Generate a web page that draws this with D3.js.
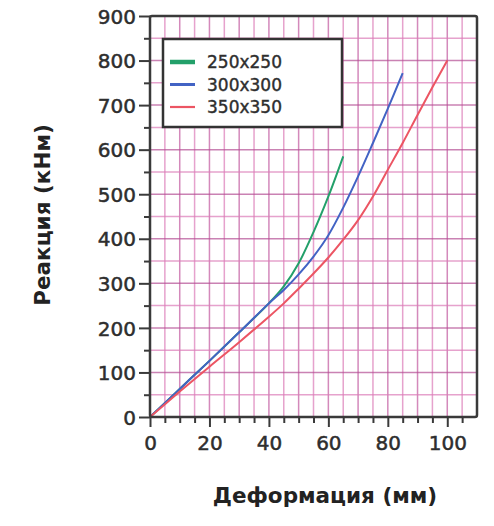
<!DOCTYPE html>
<html>
<head>
<meta charset="utf-8">
<script src="https://cdn.jsdelivr.net/npm/d3@7"></script>
<style>
	body { margin: 0; background: #fff; }
	svg { display: block; }
</style>
</head>
<body>
<script>
const w = 494;
const h = 526;
const margin = { left: 150, right: 17, top: 16, bottom: 109 };

const seriesNames = ["250x250", "300x300", "350x350"];
const seriesColors = ["#23a06a", "#4263c4", "#ec5563"];

// deformation (mm) / reaction
const defl250 = [0, 10, 20, 30, 40, 45, 50, 55, 60, 65];
const react250 = [0, 63, 126, 190, 255, 293, 345, 415, 495, 585];
const defl300 = [0, 10, 20, 30, 40, 45, 50, 55, 60, 65, 70, 75, 80, 85];
const react300 = [0, 63, 126, 190, 255, 285, 320, 360, 408, 470, 540, 615, 692, 772];
const defl350 = [0, 10, 20, 30, 40, 45, 50, 55, 60, 65, 70, 75, 80, 85, 90, 95, 100];
const react350 = [0, 57, 113, 168, 225, 255, 288, 322, 358, 398, 442, 495, 555, 615, 678, 740, 800];

const xTicks = [0, 20, 40, 60, 80, 100];
const yTicks = [0, 100, 200, 300, 400, 500, 600, 700, 800, 900];

const series = [
	{ name: seriesNames[0], color: seriesColors[0], x: defl250, y: react250 },
	{ name: seriesNames[1], color: seriesColors[1], x: defl300, y: react300 },
	{ name: seriesNames[2], color: seriesColors[2], x: defl350, y: react350 },
];

const svg = d3.select("body").append("svg").attr("width", w).attr("height", h);

const xScale = d3.scaleLinear().domain([0, 110]).range([margin.left, w - margin.right]);
const yScale = d3.scaleLinear().domain([0, 900]).range([h - margin.bottom, margin.top]);

// * GRID
const grid = svg.append("g");
grid.selectAll(".vline")
	.data(d3.range(5, 110, 5))
	.enter()
	.append("line")
	.attr("x1", (d) => xScale(d))
	.attr("x2", (d) => xScale(d))
	.attr("y1", yScale(900))
	.attr("y2", yScale(0))
	.attr("stroke", (d) => (d % 10 === 0 ? "#c2589f" : "#dc7cb8"))
	.attr("stroke-width", 1.5)
	.attr("opacity", 0.7);
grid.selectAll(".hline")
	.data(d3.range(50, 900, 50))
	.enter()
	.append("line")
	.attr("x1", xScale(0))
	.attr("x2", xScale(110))
	.attr("y1", (d) => yScale(d))
	.attr("y2", (d) => yScale(d))
	.attr("stroke", (d) => (d % 100 === 0 ? "#b44e94" : "#dc7cb8"))
	.attr("stroke-width", 1.5)
	.attr("opacity", 0.7);

// * CURVES
const line = d3.line()
	.x((d) => xScale(d[0]))
	.y((d) => yScale(d[1]))
	.curve(d3.curveCatmullRom);
series.forEach((s) => {
	svg.append("path")
		.datum(s.x.map((x, i) => [x, s.y[i]]))
		.attr("fill", "none")
		.attr("stroke", s.color)
		.attr("stroke-width", 2)
		.attr("d", line);
});

// * AXES
const xAxis = d3.axisBottom(xScale)
	.tickValues(d3.range(0, 110, 5))
	.tickSize(6)
	.tickFormat((d) => (xTicks.includes(d) ? d : ""));
const gx = svg.append("g")
	.attr("transform", "translate(0," + yScale(0) + ")")
	.call(xAxis);
gx.selectAll(".tick line")
	.attr("y2", (d) => (xTicks.includes(d) ? 10 : 6));

const yAxis = d3.axisLeft(yScale)
	.tickValues(d3.range(0, 950, 50))
	.tickSize(6)
	.tickFormat((d) => (yTicks.includes(d) ? d : ""));
const gy = svg.append("g")
	.attr("transform", "translate(" + xScale(0) + ",0)")
	.call(yAxis);
gy.selectAll(".tick line")
	.attr("x2", (d) => (yTicks.includes(d) ? -11 : -6));

[gx, gy].forEach((g) => {
	g.select(".domain").remove();
	g.selectAll(".tick line").attr("stroke", "#3a3a3a").attr("stroke-width", 2);
	g.selectAll(".tick text")
		.attr("fill", "#2e2e2e")
		.attr("stroke", "#2e2e2e")
		.attr("stroke-width", 0.5)
		.style("font-family", "'DejaVu Sans', sans-serif")
		.style("font-size", "20px");
});
gx.selectAll(".tick text").attr("dy", "1.05em").attr("y", 12);
gy.selectAll(".tick text").attr("x", -14).attr("dy", "0.36em");

// frame
svg.append("rect")
	.attr("x", xScale(0))
	.attr("y", yScale(900))
	.attr("width", xScale(110) - xScale(0))
	.attr("height", yScale(0) - yScale(900))
	.attr("rx", 2)
	.attr("fill", "none")
	.attr("stroke", "#3a3a3a")
	.attr("stroke-width", 2.5);

// * LEGEND
const legend = svg.append("g");
legend.append("rect")
	.attr("x", 163)
	.attr("y", 39)
	.attr("width", 179)
	.attr("height", 88)
	.attr("fill", "#fff")
	.attr("stroke", "#333")
	.attr("stroke-width", 2.5);
const legendWidths = [4.5, 3, 2.2];
series.forEach((s, i) => {
	const yy = 62 + i * 22.5;
	legend.append("line")
		.attr("x1", 170)
		.attr("x2", 195)
		.attr("y1", yy)
		.attr("y2", yy)
		.attr("stroke", s.color)
		.attr("stroke-width", legendWidths[i]);
	legend.append("text")
		.attr("x", 207)
		.attr("y", yy)
		.attr("dy", "0.36em")
		.attr("fill", "#2e2e2e")
		.attr("stroke", "#2e2e2e")
		.attr("stroke-width", 0.4)
		.style("font-family", "'DejaVu Sans', sans-serif")
		.style("font-size", "17px")
		.text(s.name);
});

// * TITLES
svg.append("text")
	.attr("x", 325)
	.attr("y", 503)
	.attr("text-anchor", "middle")
	.attr("fill", "#222")
	.style("font-family", "'DejaVu Sans', sans-serif")
	.style("font-weight", "bold")
	.style("font-size", "21.5px")
	.text("Деформация (мм)");
svg.append("text")
	.attr("transform", "translate(50,215) rotate(-90)")
	.attr("text-anchor", "middle")
	.attr("fill", "#222")
	.style("font-family", "'DejaVu Sans', sans-serif")
	.style("font-weight", "bold")
	.style("font-size", "21.5px")
	.text("Реакция (кНм)");
</script>
</body>
</html>
